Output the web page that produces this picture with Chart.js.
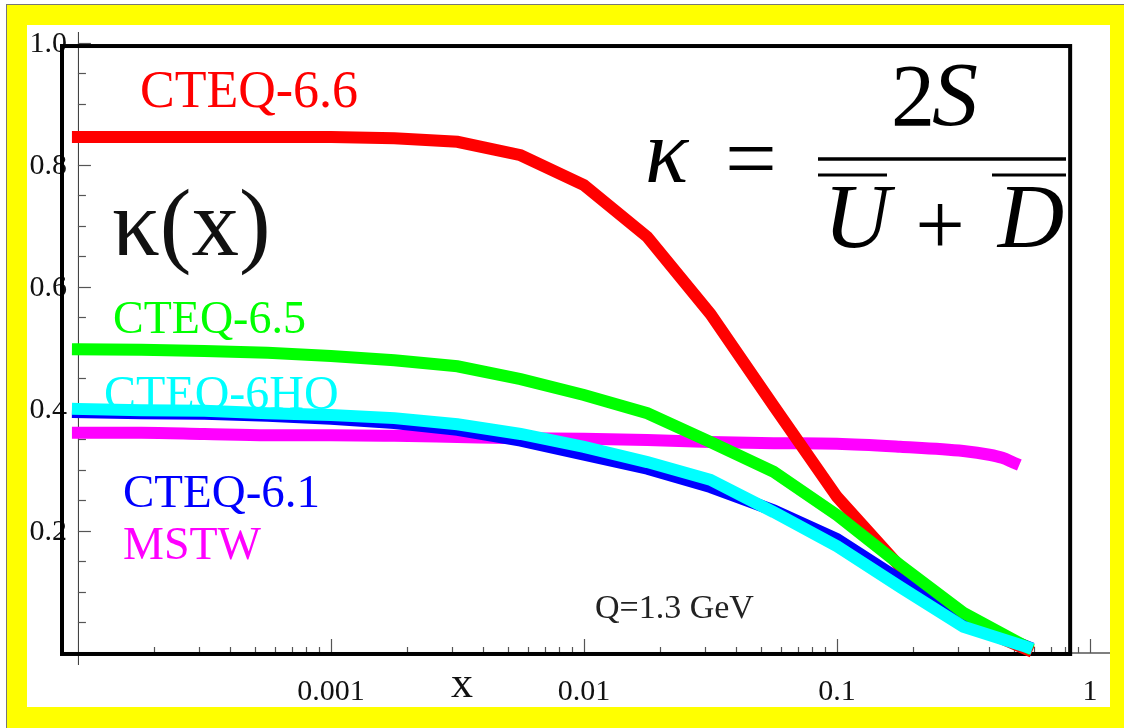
<!DOCTYPE html>
<html>
<head>
<meta charset="utf-8">
<script src="https://cdn.jsdelivr.net/npm/chart.js@4.4.0/dist/chart.umd.min.js"></script>
<style>
  html, body { margin: 0; padding: 0; background: #fff; }
  #page { position: relative; width: 1124px; height: 728px; overflow: hidden; }
  #border { position: absolute; left: 6px; top: 4px; width: 1118px; height: 724px; background: #ffff00; border-top: 1px solid #777; border-left: 1px solid #777; box-sizing: border-box; }
  #inner { position: absolute; left: 27px; top: 25px; width: 1083px; height: 682px; background: #fff; }
  canvas { position: absolute; left: 0; top: 0; }
</style>
</head>
<body>
<div id="page">
  <div id="border"></div>
  <div id="inner"></div>
  <canvas id="chart" width="1124" height="728"></canvas>
</div>
<script>
// x values (quarter decades)
var xGrid = [0.0001, 0.000178, 0.000316, 0.000562, 0.001, 0.00178, 0.00316, 0.00562, 0.01, 0.0178, 0.0316, 0.0562, 0.1, 0.178, 0.316, 0.562]
var kappaCteq66 = [0.846, 0.846, 0.846, 0.846, 0.846, 0.844, 0.838, 0.816, 0.767, 0.682, 0.556, 0.405, 0.256, 0.141, 0.051, 0.006]
var kappaCteq65 = [0.498, 0.497, 0.495, 0.492, 0.487, 0.480, 0.470, 0.449, 0.423, 0.393, 0.346, 0.297, 0.226, 0.144, 0.066, 0.010]
var kappaCteq6HO = [0.400, 0.398, 0.397, 0.393, 0.390, 0.385, 0.375, 0.359, 0.338, 0.313, 0.284, 0.231, 0.175, 0.108, 0.043, 0.010]
var kappaCteq61 = [0.395, 0.393, 0.392, 0.389, 0.384, 0.377, 0.366, 0.348, 0.325, 0.302, 0.272, 0.234, 0.187, 0.120, 0.052, 0.011]
var xMstw = [0.0001, 0.000178, 0.000316, 0.000562, 0.001, 0.00178, 0.00316, 0.00562, 0.01, 0.0178, 0.0316, 0.0562, 0.1, 0.178, 0.316, 0.40, 0.45, 0.50]
var kappaMstw = [0.361, 0.361, 0.359, 0.357, 0.357, 0.356, 0.354, 0.352, 0.351, 0.349, 0.346, 0.344, 0.343, 0.338, 0.331, 0.325, 0.320, 0.312]

// axis ticks
var xTickValues = [0.001, 0.01, 0.1, 1]
var xTickLabels = ['0.001', '0.01', '0.1', '1']
var yTickValues = [1.0, 0.8, 0.6, 0.4, 0.2]
var yTickLabels = ['1.0', '0.8', '0.6', '0.4', '0.2']

function points(xs, ys) {
    return xs.map(function (x, i) { return { x: x, y: ys[i] } })
}

var serif = '"Liberation Serif", "Times New Roman", serif'

// texts written on the plot
var notes = [
    { text: 'CTEQ-6.6', color: '#ff0000', font: '52px ' + serif, x: 140, y: 107 },
    { text: 'CTEQ-6.5', color: '#00ff00', font: '46px ' + serif, x: 113, y: 333 },
    { text: 'CTEQ-6HO', color: '#00ffff', font: '48px ' + serif, x: 104, y: 409 },
    { text: 'CTEQ-6.1', color: '#0000ff', font: '47px ' + serif, x: 123, y: 507 },
    { text: 'MSTW', color: '#ff00ff', font: '46px ' + serif, x: 123, y: 559 },
    { text: 'κ(x)', color: '#111', font: '95px ' + serif, x: 112, y: 255 },
    { text: 'Q=1.3 GeV', color: '#222', font: '34px ' + serif, x: 595, y: 618 }
]

function seg(c, x1, y1, x2, y2) {
    c.beginPath(); c.moveTo(x1, y1); c.lineTo(x2, y2); c.stroke()
}

var decor = {
    id: 'decor',
    beforeDatasetsDraw: function (chart) {
        var c = chart.ctx, xs = chart.scales.x, ys = chart.scales.y, a = chart.chartArea
        var x0 = xs.getPixelForValue(1e-4), y0 = ys.getPixelForValue(0)
        c.save()
        c.lineCap = 'butt'

        // thin axes
        c.strokeStyle = '#333'; c.lineWidth = 1
        seg(c, x0 + 0.5, a.top, x0 + 0.5, a.bottom)
        c.strokeStyle = '#555'; c.lineWidth = 1.5
        seg(c, a.left, y0, a.right, y0)

        // y ticks (pointing in)
        c.strokeStyle = '#555'; c.lineWidth = 1.2
        for (var v = 0.05; v < 1.01; v += 0.05) {
            var py = Math.round(ys.getPixelForValue(v)) + 0.5
            var major = Math.abs(v * 5 - Math.round(v * 5)) < 1e-6
            seg(c, x0, py, x0 + (major ? 13 : 8), py)
        }
        // x ticks
        for (var e = -4; e <= 0; e++) {
            for (var m = 1; m <= 9; m++) {
                var val = m * Math.pow(10, e)
                if (val > 1.05 || val < 1.5e-4 && m === 1) continue
                var px = Math.round(xs.getPixelForValue(val)) + 0.5
                seg(c, px, y0, px, y0 - (m === 1 ? 14 : 6))
            }
        }

        // tick labels
        c.fillStyle = '#111'
        c.font = '30px ' + serif
        c.textAlign = 'right'; c.textBaseline = 'middle'
        yTickValues.forEach(function (v, i) {
            c.fillText(yTickLabels[i], 67, ys.getPixelForValue(v) + 1)
        })
        c.textAlign = 'center'; c.textBaseline = 'alphabetic'
        xTickValues.forEach(function (v, i) {
            c.fillText(xTickLabels[i], xs.getPixelForValue(v), 700)
        })
        c.font = '44px ' + serif
        c.fillText('x', 462, 697)

        // black frame
        c.strokeStyle = '#000'; c.lineWidth = 4; c.lineJoin = 'miter'
        var fr = xs.getPixelForValue(0.835), ft = ys.getPixelForValue(0.995)
        c.strokeRect(a.left, ft, fr - a.left, y0 + 1 - ft)

        // labels
        c.textAlign = 'left'
        notes.forEach(function (n) {
            c.fillStyle = n.color; c.font = n.font
            c.fillText(n.text, n.x, n.y)
        })

        // formula kappa = 2S / (Ubar + Dbar)
        c.fillStyle = '#000'; c.strokeStyle = '#000'
        c.font = 'italic 90px ' + serif
        c.fillText('κ', 645, 182)
        c.font = '92px ' + serif
        c.textAlign = 'center'
        c.fillText('=', 751, 189)
        c.lineWidth = 3.5
        seg(c, 818, 159, 1066, 159)
        c.font = '88px ' + serif
        c.textAlign = 'right'
        c.fillText('2', 935, 125)
        c.font = 'italic 92px ' + serif
        c.textAlign = 'left'
        c.fillText('S', 932, 125)
        c.textAlign = 'center'
        c.fillText('U', 857, 247)
        c.fillText('D', 1031, 247)
        c.font = '88px ' + serif
        c.fillText('+', 940, 254)
        c.lineWidth = 3
        seg(c, 818, 175, 887, 175)
        seg(c, 992, 175, 1066, 175)
        c.restore()
    }
}

var chart = new Chart(document.getElementById('chart').getContext('2d'), {
    type: 'line',
    data: {
        datasets: [
            { label: 'CTEQ-6HO', data: points(xGrid, kappaCteq6HO), borderColor: '#00ffff' },
            { label: 'CTEQ-6.5', data: points(xGrid, kappaCteq65), borderColor: '#00ff00' },
            { label: 'CTEQ-6.1', data: points(xGrid, kappaCteq61), borderColor: '#0000ff' },
            { label: 'CTEQ-6.6', data: points(xGrid, kappaCteq66), borderColor: '#ff0000' },
            { label: 'MSTW', data: points(xMstw, kappaMstw), borderColor: '#ff00ff', cubicInterpolationMode: 'monotone' }
        ]
    },
    options: {
        responsive: false,
        animation: false,
        layout: { padding: { left: 62, top: 32, right: 14, bottom: 63 } },
        plugins: { legend: { display: false }, tooltip: { enabled: false } },
        scales: {
            x: { type: 'logarithmic', min: 8.65e-5, max: 1.2, display: false },
            y: { type: 'linear', min: -0.0197, max: 1.018, display: false }
        },
        elements: {
            point: { radius: 0 },
            line: { borderWidth: 12, borderCapStyle: 'square', borderJoinStyle: 'miter', tension: 0, fill: false }
        }
    },
    plugins: [decor]
})
</script>
</body>
</html>
